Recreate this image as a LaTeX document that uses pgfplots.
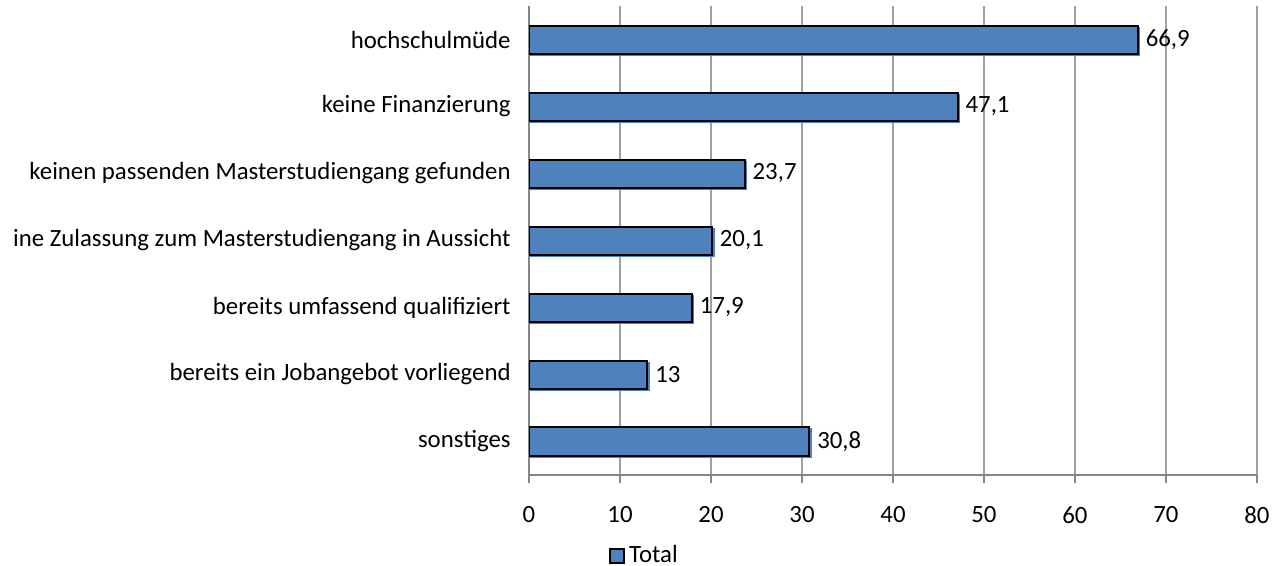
\documentclass[border=0pt]{standalone}
\usepackage{fontspec}
\setmainfont{Carlito}
\usepackage{pgfplots}
\pgfplotsset{compat=1.18}
\definecolor{barblue}{HTML}{4F81BD}
\definecolor{gridgray}{HTML}{A0A0A0}
\definecolor{axisgray}{HTML}{868686}
\begin{document}
\begin{tikzpicture}
\begin{axis}[
  at={(264.5pt,45.5pt)}, anchor=south west,
  scale only axis, width=364pt, height=234.5pt,
  xmin=0, xmax=80, ymin=-0.5, ymax=6.5, y dir=reverse,
  xtick={0,10,...,80}, ytick={0,1,2,3,4,5,6},
  yticklabels={hochschulmüde, keine Finanzierung, keinen passenden Masterstudiengang gefunden, ine Zulassung zum Masterstudiengang in Aussicht, bereits umfassend qualifiziert, bereits ein Jobangebot vorliegend, sonstiges},
  xbar, bar width=14pt, bar shift=0pt,
  axis x line*=bottom, axis y line*=left,
  axis line style={axisgray, line width=0.6pt},
  xmajorgrids, grid style={gridgray, line width=0.6pt},
  ytick style={draw=none},
  xtick style={axisgray, line width=0.6pt},
  tick align=outside, major tick length=4pt,
  /pgf/number format/assume math mode=true,
  /pgf/number format/use comma,
  tick label style={font=\fontsize{12.4}{14}\selectfont, text=black},
  y tick label style={inner sep=0pt, anchor=east, xshift=-5pt},
  x tick label style={inner sep=0pt, anchor=north, yshift=-11.5pt},
  legend style={draw=none, fill=none, at={(0.16,-0.172)}, anchor=center, font=\fontsize{12.4}{14}\selectfont, inner sep=1pt},
  legend image code/.code={\draw[fill=barblue, draw=black, line width=1pt] (0pt,-3.5pt) rectangle (7pt,3.5pt);},
]
\addplot[fill=barblue, draw=barblue, line width=0.8pt, forget plot, xshift=0.9pt, yshift=-0.9pt] coordinates {
  (66.9,0) (47.1,1) (23.7,2) (20.1,3) (17.9,4) (13,5) (30.8,6)};
\addplot[fill=barblue, draw=black, line width=1pt,
  nodes near coords,
  every node near coord/.append style={font=\fontsize{12.4}{14}\selectfont, text=black, anchor=west, inner sep=0pt, xshift=3.5pt}]
  coordinates {
  (66.9,0) (47.1,1) (23.7,2) (20.1,3) (17.9,4) (13,5) (30.8,6)};
\addlegendentry{Total}
\end{axis}
\pgfresetboundingbox
\path[use as bounding box] (0,0) rectangle (642pt,283pt);
\end{tikzpicture}
\end{document}
